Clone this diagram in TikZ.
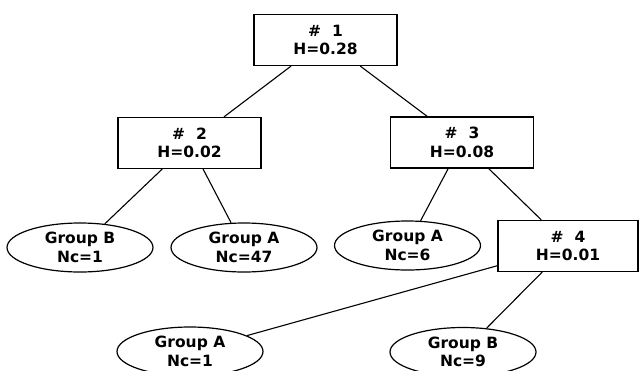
\documentclass[tikz,border=0pt]{standalone}
\usepackage{fontspec}
\setmainfont{DejaVu Sans}
\usetikzlibrary{shapes.geometric}

\begin{document}
\begin{tikzpicture}[x=1pt,y=-1pt,
  splitbox/.style={draw,line width=1.2pt,rectangle,minimum width=143pt,minimum height=51pt,
    align=center,font=\bfseries\fontsize{15.5}{18.5}\selectfont},
  groupleaf/.style={draw,line width=1.2pt,ellipse,inner sep=0pt,minimum width=146pt,minimum height=49pt,
    align=center,font=\bfseries\fontsize{15.5}{18.5}\selectfont}]
 \useasboundingbox (0,0) rectangle (639,370);
 % splits
 \node[splitbox] (n1) at (325.5,40) {\#\hspace{11pt}1\\H=0.28};
 \node[splitbox] (n2) at (189.5,143) {\#\hspace{11pt}2\\H=0.02};
 \node[splitbox] (n3) at (462,142.5) {\#\hspace{11pt}3\\H=0.08};
 \node[splitbox,minimum width=140pt] (n4) at (568,246) {\#\hspace{11pt}4\\H=0.01};
 % groups
 \node[groupleaf] (g1) at (80,247.5) {Group B\\Nc=1};
 \node[groupleaf] (g2) at (244,247.5) {Group A\\Nc=47};
 \node[groupleaf] (g3) at (407.5,245.5) {Group A\\Nc=6};
 \node[groupleaf] (g4) at (190,351.5) {Group A\\Nc=1};
 \node[groupleaf] (g5) at (463,352) {Group B\\Nc=9};

 \draw[line width=1.1pt] (n1) -- (n2);
 \draw[line width=1.1pt] (n1) -- (n3);
 \draw[line width=1.1pt] (n2) -- (g1);
 \draw[line width=1.1pt] (n2) -- (g2);
 \draw[line width=1.1pt] (n3) -- (g3);
 \draw[line width=1.1pt] (n3) -- (n4);
 \draw[line width=1.1pt] (n4) -- (g4);
 \draw[line width=1.1pt] (n4) -- (g5);
\end{tikzpicture}
\end{document}
